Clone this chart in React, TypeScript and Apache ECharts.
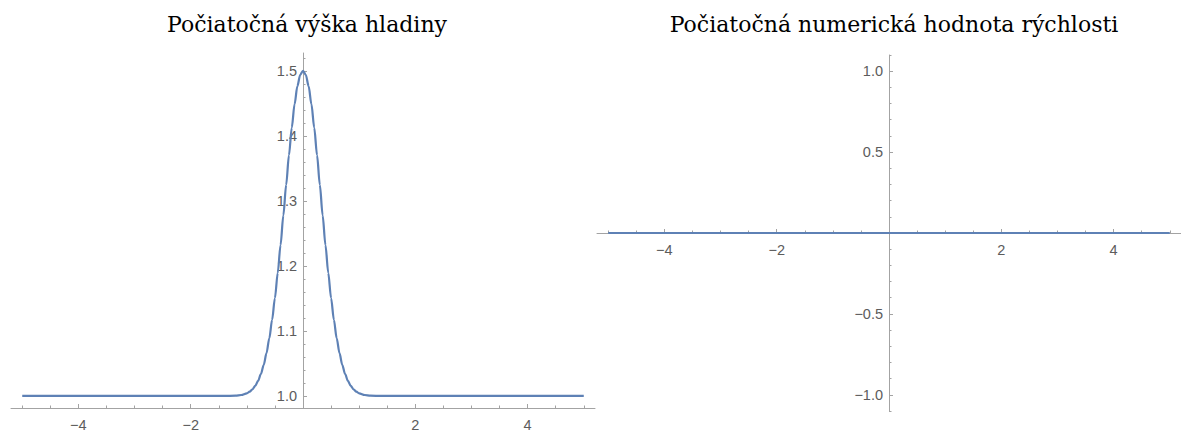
import React, { useEffect, useRef } from "react";
import * as echarts from "echarts";

// Left plot: initial surface height
const heightX = [
  -5, -4, -3, -2, -1.5, -1.4, -1.2, -1.1, -1.0, -0.95, -0.9, -0.85, -0.8, -0.75, -0.7, -0.65, -0.6, -0.55,
  -0.5, -0.45, -0.4, -0.35, -0.3, -0.25, -0.2, -0.15, -0.1, -0.05, 0, 0.05, 0.1, 0.15, 0.2, 0.25, 0.3,
  0.35, 0.4, 0.45, 0.5, 0.55, 0.6, 0.65, 0.7, 0.75, 0.8, 0.85, 0.9, 0.95, 1.0, 1.1, 1.2, 1.4, 1.5, 2, 3, 4, 5,
];
const heightY = [
  1, 1, 1, 1, 1, 1.0, 1.0005, 1.0015, 1.0041, 1.0066, 1.0102, 1.0156, 1.0232, 1.0336, 1.0476, 1.0658, 1.0888, 1.1171,
  1.1506, 1.1892, 1.232, 1.2777, 1.3246, 1.3704, 1.4127, 1.4488, 1.4766, 1.494, 1.5, 1.494, 1.4766, 1.4488, 1.4127, 1.3704, 1.3246,
  1.2777, 1.232, 1.1892, 1.1506, 1.1171, 1.0888, 1.0658, 1.0476, 1.0336, 1.0232, 1.0156, 1.0102, 1.0066, 1.0041, 1.0015, 1.0005, 1.0, 1, 1, 1, 1, 1,
];

// Right plot: initial velocity (zero everywhere)
const velocityX = [-5, -2.5, 0, 2.5, 5];
const velocityY = [0, 0, 0, 0, 0];

// Tick labels
const xMajorTicks = [-4, -2, 2, 4];
const xMinorTicks = [-5, -4.5, -4, -3.5, -3, -2.5, -2, -1.5, -1, -0.5, 0, 0.5, 1, 1.5, 2, 2.5, 3, 3.5, 4, 4.5, 5];
const heightMajorTicks = [1.0, 1.1, 1.2, 1.3, 1.4, 1.5];
const heightMinorTicks = [
  0.98, 1.0, 1.02, 1.04, 1.06, 1.08, 1.1, 1.12, 1.14, 1.16, 1.18, 1.2, 1.22, 1.24, 1.26, 1.28, 1.3, 1.32, 1.34,
  1.36, 1.38, 1.4, 1.42, 1.44, 1.46, 1.48, 1.5, 1.52,
];
const velocityMajorTicks = [-1.0, -0.5, 0.5, 1.0];
const velocityMinorTicks = [
  -1.1, -1.0, -0.9, -0.8, -0.7, -0.6, -0.5, -0.4, -0.3, -0.2, -0.1, 0, 0.1, 0.2, 0.3, 0.4, 0.5, 0.6, 0.7, 0.8, 0.9, 1.0, 1.1,
];

const titles = ["Počiatočná výška hladiny", "Počiatočná numerická hodnota rýchlosti"];

const AXIS = "#a3a3a3";
const LABEL = "#5c5c5c";
const LINE = "#5E81B5";
const minus = (v: number, d: number) => (d > 0 ? v.toFixed(d) : String(v)).replace("-", "\u2212");

function xAxes(grid: number, offset: number) {
  return [
    {
      type: "value",
      gridIndex: grid,
      min: -5.2,
      max: 5.2,
      position: "bottom",
      offset,
      splitLine: { show: false },
      axisLine: { onZero: false, lineStyle: { color: AXIS, width: 1 } },
      axisTick: { show: true, inside: true, length: 4, customValues: xMajorTicks, lineStyle: { color: AXIS } },
      axisLabel: {
        customValues: xMajorTicks,
        formatter: (v: number) => minus(v, 0),
        color: LABEL,
        fontSize: 14.5,
        fontFamily: "Liberation Sans",
        margin: 9,
      },
    },
    {
      type: "value",
      gridIndex: grid,
      min: -5.2,
      max: 5.2,
      position: "bottom",
      offset,
      splitLine: { show: false },
      axisLine: { show: false, onZero: false },
      axisTick: { show: true, inside: true, length: 2.5, customValues: xMinorTicks, lineStyle: { color: AXIS } },
      axisLabel: { show: false },
    },
  ];
}

function yAxes(grid: number, min: number, max: number, major: number[], minor: number[], offset: number) {
  return [
    {
      type: "value",
      gridIndex: grid,
      min,
      max,
      position: "left",
      offset,
      splitLine: { show: false },
      axisLine: { onZero: false, lineStyle: { color: AXIS, width: 1 } },
      axisTick: { show: true, inside: true, length: 4, customValues: major, lineStyle: { color: AXIS } },
      axisLabel: {
        customValues: major,
        formatter: (v: number) => minus(v, 1),
        color: LABEL,
        fontSize: 14.5,
        fontFamily: "Liberation Sans",
        margin: 6,
      },
    },
    {
      type: "value",
      gridIndex: grid,
      min,
      max,
      position: "left",
      offset,
      splitLine: { show: false },
      axisLine: { show: false, onZero: false },
      axisTick: { show: true, inside: true, length: 2.5, customValues: minor, lineStyle: { color: AXIS } },
      axisLabel: { show: false },
    },
  ];
}

export default function App() {
  const ref = useRef<HTMLDivElement>(null);
  useEffect(() => {
    if (!ref.current) return;
    const chart = echarts.init(ref.current, undefined, { renderer: "svg" });
    const titleStyle = { fontFamily: "DejaVu Serif", fontWeight: "normal", fontSize: 22, color: "#000" };
    chart.setOption({
      animation: false,
      backgroundColor: "#ffffff",
      title: [
        { text: titles[0], left: 302, top: 8, textAlign: "center", textStyle: titleStyle },
        { text: titles[1], left: 889, top: 8, textAlign: "center", textStyle: titleStyle },
      ],
      grid: [
        { left: 11, top: 53, width: 584, height: 355, outerBoundsMode: "none", containLabel: false },
        { left: 597, top: 55, width: 584, height: 356, outerBoundsMode: "none", containLabel: false },
      ],
      xAxis: [...xAxes(0, 0), ...xAxes(1, -178)],
      yAxis: [
        ...yAxes(0, 0.9815, 1.5275, heightMajorTicks, heightMinorTicks, -292),
        ...yAxes(1, -1.1, 1.1, velocityMajorTicks, velocityMinorTicks, -292),
      ],
      series: [
        {
          type: "line",
          xAxisIndex: 0,
          yAxisIndex: 0,
          data: heightX.map((x, i) => [x, heightY[i]]),
          showSymbol: false,
          smooth: 0.3,
          smoothMonotone: "x",
          lineStyle: { color: LINE, width: 2.2 },
          z: 5,
        },
        {
          type: "line",
          xAxisIndex: 2,
          yAxisIndex: 2,
          data: velocityX.map((x, i) => [x, velocityY[i]]),
          showSymbol: false,
          lineStyle: { color: LINE, width: 2.2 },
          z: 5,
        },
      ],
    });
    return () => chart.dispose();
  }, []);
  return <div ref={ref} style={{ position: "fixed", left: 0, top: 0, width: 1181, height: 432 }} />;
}
